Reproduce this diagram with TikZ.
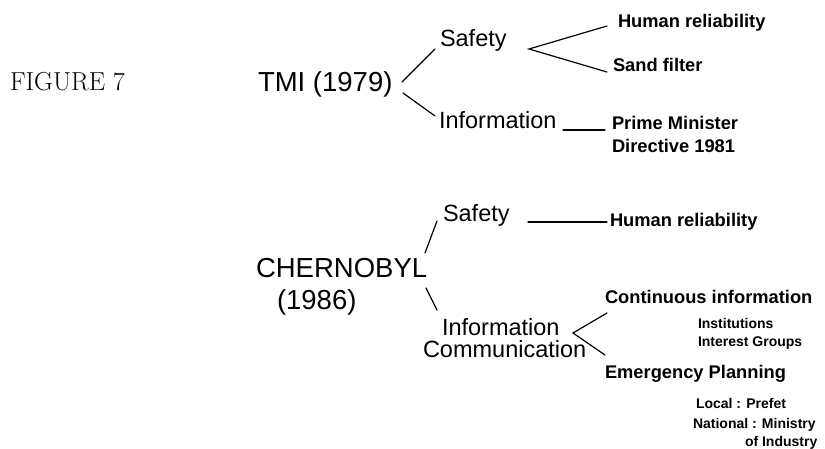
\documentclass[tikz,border=0pt]{standalone}
\usepackage{fontspec}
\newfontfamily\hv{Liberation Sans}
\begin{document}
\begin{tikzpicture}[x=1pt,y=-1pt,
  lbl/.style={inner sep=0pt, outer sep=0pt, anchor=base west},
  figlbl/.style={lbl, font=\fontsize{26}{30}\selectfont},
  toplbl/.style={lbl, font=\hv\fontsize{27.5}{31}\selectfont},
  midlbl/.style={lbl, font=\hv\fontsize{23.5}{27}\selectfont},
  leaflbl/.style={lbl, font=\hv\bfseries\fontsize{18.3}{21}\selectfont},
  smalllbl/.style={lbl, font=\hv\bfseries\fontsize{14}{16}\selectfont},
  conn/.style={line width=1.2pt, line cap=round}]
\useasboundingbox (0,0) rectangle (825,449);

% labels
\node[figlbl] (fig) at (10,91) {FIGURE 7};
\node[toplbl] (tmi) at (258,92) {TMI (1979)};
\node[midlbl] (s1) at (440,47) {Safety};
\node[midlbl] (i1) at (439,129) {Information};
\node[leaflbl] (h1) at (618,28) {Human reliability};
\node[leaflbl] (sf) at (613,72) {Sand filter};
\node[leaflbl] (pm) at (612,130) {Prime Minister};
\node[leaflbl] (dir) at (612,153) {Directive 1981};

\node[toplbl] (ch) at (256,277) {CHERNOBYL};
\node[toplbl] (yr) at (277,309) {(1986)};
\node[midlbl] (s2) at (443,222) {Safety};
\node[leaflbl] (h2) at (610,227) {Human reliability};
\node[midlbl] (i2) at (442,335) {Information};
\node[midlbl] (cm) at (423,357) {Communication};
\node[leaflbl] (ci) at (605,303) {Continuous information};
\node[smalllbl] (inst) at (698,328) {Institutions};
\node[smalllbl] (ig) at (698,346) {Interest Groups};
\node[leaflbl] (ep) at (605,378) {Emergency Planning};
\node[smalllbl] (loc) at (696,408) {Local : Prefet};
\node[smalllbl] (nat) at (693,428) {National : Ministry};
\node[smalllbl] (ind) at (745,446) {of Industry};

% connector end points
\coordinate (tmiU) at (402,82);
\coordinate (s1L) at (435,49);
\coordinate (tmiD) at (403,93);
\coordinate (i1L) at (435,116);
\coordinate (s1R) at (529,49);
\coordinate (h1L) at (607,26);
\coordinate (sfL) at (607,72);
\coordinate (i1R) at (563,130);
\coordinate (pmL) at (605,130);

\coordinate (chU) at (425,253);
\coordinate (s2L) at (437,221);
\coordinate (chD) at (426,288);
\coordinate (i2L) at (437,310);
\coordinate (s2R) at (528,222);
\coordinate (h2L) at (607,222);
\coordinate (cmR) at (573,333);
\coordinate (ciL) at (607,313);
\coordinate (epL) at (605,355);

% connectors
\draw[conn] (tmiU) -- (s1L);
\draw[conn] (tmiD) -- (i1L);
\draw[conn] (h1L) -- (s1R) -- (sfL);
\draw[conn] (i1R) -- (pmL);
\draw[conn] (chU) -- (s2L);
\draw[conn] (chD) -- (i2L);
\draw[conn] (s2R) -- (h2L);
\draw[conn] (ciL) -- (cmR) -- (epL);
\end{tikzpicture}
\end{document}
